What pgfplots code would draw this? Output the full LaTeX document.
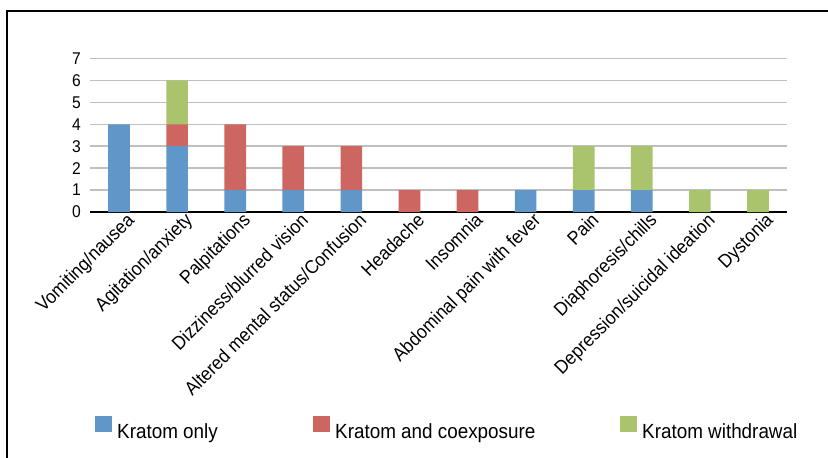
\documentclass[border=0pt]{standalone}
\usepackage{pgfplots}
\pgfplotsset{compat=1.18}
\usepackage{fontspec}
\setmainfont{Liberation Sans}[FakeStretch=0.92]
\definecolor{kblue}{HTML}{6096C8}
\definecolor{kred}{HTML}{CD6660}
\definecolor{kgreen}{HTML}{A9C46C}
\definecolor{kgrid}{HTML}{BFBFBF}
\begin{document}
\begin{tikzpicture}
\useasboundingbox (-90bp,-246bp) rectangle (738bp,212bp);
\draw[line width=1.3bp,black] (-83bp,-250bp) -- (-83bp,201bp) -- (745bp,201bp);
\begin{axis}[
  at={(0,0)}, anchor=south west,
  scale only axis, width=697bp, height=153.5bp,
  ybar stacked, bar width=21.6bp,
  xmin=-0.5, xmax=11.5, ymin=0, ymax=7,
  xtick={0,...,11},
  xticklabels={Vomiting/nausea,Agitation/anxiety,Palpitations,Dizziness/blurred vision,Altered mental status/Confusion,Headache,Insomnia,Abdominal pain with fever,Pain,Diaphoresis/chills,Depression/suicidal ideation,Dystonia},
  ytick={0,...,7},
  yticklabels={{\fontsize{17bp}{18bp}\selectfont 0},{\fontsize{17bp}{18bp}\selectfont 1},{\fontsize{17bp}{18bp}\selectfont 2},{\fontsize{17bp}{18bp}\selectfont 3},{\fontsize{17bp}{18bp}\selectfont 4},{\fontsize{17bp}{18bp}\selectfont 5},{\fontsize{17bp}{18bp}\selectfont 6},{\fontsize{17bp}{18bp}\selectfont 7}},
  major tick length=0pt,
  axis x line*=bottom, axis y line*=left,
  x axis line style={black, line width=1.3bp},
  y axis line style={draw=none},
  ymajorgrids, major grid style={kgrid, line width=1.5bp},
  y tick label style={anchor=east, inner sep=0pt, xshift=-9bp},
  x tick label style={font=\fontsize{19bp}{21bp}\selectfont, rotate=45, anchor=north east, inner sep=0pt, xshift=5bp, yshift=-4bp},
  legend columns=3,
  legend style={draw=none, fill=none, at={(0.00717,-1.405)}, anchor=west, inner sep=0pt,
    font=\fontsize{20.5bp}{22bp}\selectfont,
    /tikz/every even column/.append style={column sep=0pt},
    /tikz/every odd column/.append style={column sep=0pt},
    nodes={inner sep=0pt}},
  legend cell align=left,
  legend image code/.code={\fill[#1] (0bp,-1bp) rectangle (16.7bp,15.5bp); \path (22bp,0);},
]
\addplot[fill=kblue, draw=none] coordinates {(0,4) (1,3) (2,1) (3,1) (4,1) (5,0) (6,0) (7,1) (8,1) (9,1) (10,0) (11,0)};
\addplot[fill=kred, draw=none] coordinates {(0,0) (1,1) (2,3) (3,2) (4,2) (5,1) (6,1) (7,0) (8,0) (9,0) (10,0) (11,0)};
\addplot[fill=kgreen, draw=none] coordinates {(0,0) (1,2) (2,0) (3,0) (4,0) (5,0) (6,0) (7,0) (8,2) (9,2) (10,1) (11,1)};
\legend{\makebox[196bp][l]{Kratom only},\makebox[285bp][l]{Kratom and coexposure},Kratom withdrawal}
\end{axis}
\end{tikzpicture}
\end{document}
